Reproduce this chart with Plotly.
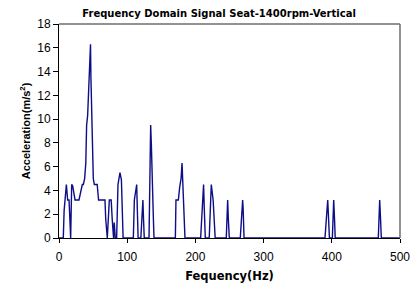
import plotly.graph_objects as go

# Frequency (Hz) and acceleration (m/s^2)
freq = [0, 6.3, 7.5, 9.8, 10.8, 12.7, 14.7, 15.8, 17.1, 18.6, 20, 21.5, 23.5, 29.3,
        32.3, 34.2, 35.7, 37.6, 39.3, 40.5, 42, 43.5, 44.8, 46.2, 46.8, 47.8, 48.9,
        50.3, 51.8, 56, 58, 67.4, 68.5, 70.8, 73.8, 76.5, 78, 80, 81, 82.5, 84.5,
        86.5, 89.4, 90.5, 91.5, 94, 109, 110.5, 113.9, 114.8, 116, 120, 121, 123,
        124, 125, 132, 134.4, 135.5, 137, 138.3, 139.3, 170.6, 171.5, 175, 177, 179,
        180.4, 182, 184.7, 207.7, 210, 212, 213, 214.5, 220.3, 221.5, 222.3, 223.3,
        226, 227, 229, 245.3, 246.3, 247.3, 248.3, 249.7, 265.8, 267.5, 269.3, 270,
        271.3, 390, 391.5, 394, 395, 396.5, 400.8, 401.5, 402.8, 404, 405, 468.2,
        469, 470.2, 471.5, 472.6, 500]
accel = [0, 0, 2.3, 4.5, 4.5, 3.2, 3.2, 1.8, 0, 4.5, 4.4, 3.9, 3.2, 3.2,
         4.0, 4.5, 4.5, 5.0, 6.3, 9.5, 10.3, 13.2, 15.3, 16.3, 13.5, 10.3, 6.3,
         5.0, 4.5, 4.5, 3.2, 3.2, 1.6, 0, 3.2, 3.2, 1.6, 0, 1.3, 0, 0,
         4.5, 5.5, 4.9, 4.9, 0, 0, 3.2, 4.5, 2.5, 0, 0, 1.5, 3.2,
         1.5, 0, 0, 9.5, 7.7, 3.2, 1.8, 0, 0, 3.2, 3.2, 4.3, 5.0,
         6.3, 4.2, 0, 0, 3.2, 4.5, 2.5, 0, 0, 1.5, 3.2, 4.5,
         3.2, 2.0, 0, 0, 1.6, 3.2, 1.6, 0, 0, 1.6, 3.2, 2.5,
         0, 0, 1.6, 3.2, 2.0, 0, 0, 1.6, 3.2, 1.6, 0, 0,
         1.6, 3.2, 1.6, 0, 0]

x_ticks = [0, 100, 200, 300, 400, 500]
y_ticks = [0, 2, 4, 6, 8, 10, 12, 14, 16, 18]

title_text = "Frequency Domain Signal Seat-1400rpm-Vertical"
x_title = "Fequency(Hz)"
y_title = "Acceleration(m/s<sup>2</sup>)"

fig = go.Figure()
fig.add_trace(go.Scatter(x=freq, y=accel, mode="lines",
                         line=dict(color="#0d0d85", width=1.4),
                         showlegend=False, hoverinfo="x+y"))

arial = "Liberation Sans, Arial, sans-serif"
wide = "DejaVu Sans, Verdana, sans-serif"

fig.update_layout(
    width=411, height=292,
    margin=dict(l=59, r=11, t=24, b=54, autoexpand=False),
    paper_bgcolor="white", plot_bgcolor="white",
    title=dict(text=f"<b>{title_text}</b>", x=0.533, xanchor="center",
               xref="container", y=1 - 13 / 292, yref="container",
               yanchor="middle",
               font=dict(family=wide, size=10, color="black")),
    xaxis=dict(range=[0, 500], tickvals=x_ticks, showgrid=False, zeroline=False,
               automargin=False,
               showline=True, linecolor="black", linewidth=1,
               ticks="outside", ticklen=4, tickcolor="black",
               ticklabelstandoff=4,
               tickfont=dict(family=arial, size=12, color="black"),
               title=dict(text=f"<b>{x_title}</b>", standoff=8,
                          font=dict(family=wide, size=11.5, color="black"))),
    yaxis=dict(range=[0, 18], tickvals=y_ticks, showgrid=False, zeroline=False,
               automargin=False,
               showline=True, linecolor="black", linewidth=1,
               ticks="outside", ticklen=5, tickcolor="black",
               tickfont=dict(family=arial, size=12, color="black"),
               title=dict(text=f"<b>{y_title}</b>", standoff=4,
                          font=dict(family=arial, size=11, color="black"))),
)

# gray frame on top and right
fig.add_shape(type="line", xref="paper", yref="paper", x0=0, x1=1, y0=1, y1=1,
              line=dict(color="#6e6e6e", width=1.5))
fig.add_shape(type="line", xref="paper", yref="paper", x0=1, x1=1, y0=0, y1=1,
              line=dict(color="#6e6e6e", width=1.5))

fig.write_html("out.html",
               config={"displayModeBar": False},
               post_script="document.body.style.margin='0';document.body.style.overflow='hidden';")
